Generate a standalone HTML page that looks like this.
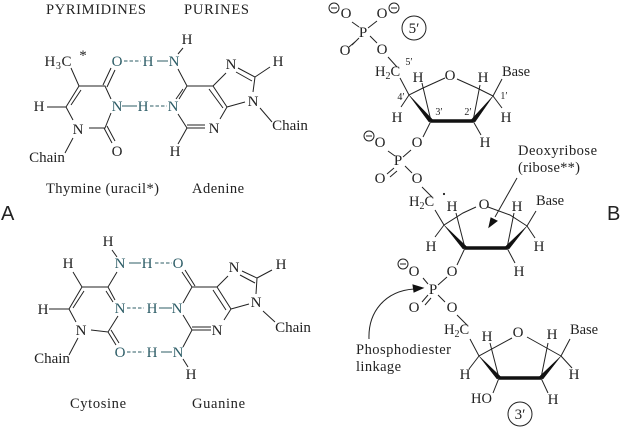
<!DOCTYPE html>
<html><head><meta charset="utf-8"><style>
html,body{margin:0;padding:0;background:#fff}
svg{display:block;filter:blur(.3px)}
text{font-family:"Liberation Serif",serif;font-size:14.5px;fill:#222}
.a text{text-anchor:middle;font-size:15px}
.t text{fill:#2c5c66}
.s{font-size:10px}
.a text.b{font-size:10px}
.l{font-family:"Liberation Sans",sans-serif;font-size:20px}
path,line,circle{fill:none;stroke:#222;stroke-width:1}
</style></head><body>
<svg width="622" height="429" viewBox="0 0 622 429" xmlns="http://www.w3.org/2000/svg">
<!-- Labels -->
<text x="46" y="14" textLength="100">PYRIMIDINES</text>
<text x="184" y="14" textLength="65">PURINES</text>
<text x="46" y="193" textLength="113">Thymine (uracil*)</text>
<text x="192" y="193" textLength="52">Adenine</text>
<text x="70" y="408" textLength="56">Cytosine</text>
<text x="192" y="408" textLength="53">Guanine</text>
<text class="l" x="1" y="220">A</text>
<text class="l" x="607" y="220">B</text>

<!-- Thymine-Adenine bonds -->
<path d="M71 68L79 86L105 86L111 99M111 113L105 128L89 128M73 138L65 153M73 120L66 107L79 86M47 107L66 107"/>
<path d="M71 105L81 90M103 85L111 68M107 87L115 70M104 128L112 143M107 126L115 141"/>
<path d="M178 69L187 86L213 86L227 107L220 119M187 86L179 99M183 89L176 99M178 114L187 128L178 144M187 128L205 128M187 125L205 125M183 48L178 54M213 86L226 73M209 89L223 108M238 68L255 77L253 92M236 72L252 81M255 77L270 67M227 107L245 102M260 108L272 122"/>
<path d="M122 106H137M157 61H168" style="stroke:#2c5c66"/>
<path d="M124 61H141M150 106H167" style="stroke:#2c5c66;stroke-dasharray:3.5 2"/>

<!-- Cytosine-Guanine bonds -->
<path d="M73 272L82 287L108 287L115 300M106 291L113 302M82 287L69 309L76 322M84 291L73 308M49 309L69 309M112 250L117 257M117 272L108 287M118 316L108 332L91 330M78 338L69 355M108 332L116 345M111 330L119 343"/>
<path d="M192 287L217 287L231 309L224 320M192 287L182 272M195 286L185 270M183 303L192 287M183 315L192 330L183 347M192 330H211M192 327H211M183 359L188 367M217 287L228 276M213 290L226 310M242 271L257 278L256 294M240 275L255 283M257 278L272 270M231 309L249 304M263 311L275 322"/>
<path d="M129 263H141M159 308H172M161 352H172" style="stroke:#2c5c66"/>
<path d="M155 263H172M127 308H144M127 352H144" style="stroke:#2c5c66;stroke-dasharray:3.5 2"/>

<g class="a">
<text x="58" y="66" textLength="27">H<tspan class="s" dy="3">3</tspan><tspan dy="-3">C</tspan></text>
<text x="83" y="60">*</text>
<text x="39" y="111">H</text><text x="47" y="162">Chain</text>
<text x="117" y="156">O</text><text x="78" y="134">N</text>
<text x="187" y="44">H</text><text x="278" y="66">H</text><text x="231" y="69">N</text><text x="253" y="106">N</text>
<text x="290" y="130">Chain</text><text x="214" y="133">N</text><text x="175" y="156">H</text>
<text x="108" y="246">H</text><text x="68" y="268">H</text><text x="43" y="314">H</text>
<text x="81" y="335">N</text><text x="52" y="363">Chain</text>
<text x="234" y="272">N</text><text x="281" y="269">H</text><text x="256" y="307">N</text>
<text x="293" y="332">Chain</text><text x="217" y="335">N</text><text x="191" y="379">H</text>
</g>
<g class="a t">
<text x="117" y="66">O</text><text x="148" y="66">H</text><text x="174" y="66">N</text>
<text x="117" y="111">N</text><text x="143" y="111">H</text><text x="173" y="111">N</text>
<text x="120" y="268">N</text><text x="147" y="268">H</text><text x="178" y="268">O</text>
<text x="120" y="313">N</text><text x="152" y="313">H</text><text x="177" y="313">N</text>
<text x="120" y="357">O</text><text x="152" y="357">H</text><text x="178" y="357">N</text>
</g>

<!-- Phosphate 1 and ring 1 -->
<path d="M352 22L359 27M377 21L368 28M370 36L377 43M359 38L352 45M356 41L349 47M388 57L397 67M400 78L409 95L423 88M445 78L423 88M457 79L477 88L493 96M422 83L431 121M480 85L473 121M493 96L502 79M493 96L502 108M409 95L401 107M431 121L423 137M473 121L481 135"/>
<path d="M409 95L429 122L433 120Z" style="fill:#111;stroke:#111;stroke-width:.5"/>
<path d="M493 96L471 120L475 122Z" style="fill:#111;stroke:#111;stroke-width:.5"/>
<path d="M431 121H473" style="stroke:#111;stroke-width:3.5"/>
<circle cx="334" cy="8" r="5"/><path d="M331 8H337"/>
<circle cx="394" cy="8" r="5"/><path d="M391 8H397"/>
<circle cx="414" cy="28" r="12"/>
<circle cx="369" cy="136" r="5"/><path d="M366 136H372"/>

<!-- Phosphate 2 and ring 2 -->
<path d="M388 151L395 156M411 150L403 157M405 166L412 173M394 168L387 174M397 171L390 177M422 187L432 197M435 210L444 225L463 213L476 207M488 207L510 215L527 226M456 213L465 248M514 213L507 248M527 226L536 211M444 225L435 237M527 226L535 238M507 248L515 263M465 248L457 265"/>
<path d="M444 225L463 249L467 247Z" style="fill:#111;stroke:#111;stroke-width:.5"/>
<path d="M527 226L505 247L509 249Z" style="fill:#111;stroke:#111;stroke-width:.5"/>
<path d="M465 248H507" style="stroke:#111;stroke-width:3.5"/>
<path d="M517 178L495 217"/>
<path d="M489 227L491 218L497 221Z" style="fill:#111;stroke:#111"/>
<circle cx="403" cy="264" r="5"/><path d="M400 264H406"/>

<!-- Phosphate 3 and ring 3 -->
<path d="M423 278L428 284M447 277L438 285M438 295L445 302M428 295L422 302M431 298L425 305M457 315L467 325M470 339L479 356L512 338M527 337L561 356M490 343L499 378M548 343L541 378M561 356L570 339M561 356L572 368M479 356L469 369M499 378L493 393M541 378L548 393"/>
<path d="M479 356L497 379L501 377Z" style="fill:#111;stroke:#111;stroke-width:.5"/>
<path d="M561 356L539 377L543 379Z" style="fill:#111;stroke:#111;stroke-width:.5"/>
<path d="M499 378H541" style="stroke:#111;stroke-width:3.5"/>
<path d="M369 339C368 312 385 291 414 289"/>
<path d="M423 288L413 285L414 292Z" style="fill:#111;stroke:#111"/>
<circle cx="520" cy="414" r="12"/>
<circle cx="444" cy="194" r=".6" style="fill:#222"/>

<g class="a">
<text x="346" y="18">O</text><text x="382" y="18">O</text><text x="363" y="37">P</text><text x="345" y="55">O</text><text x="382" y="54">O</text>
<text x="414" y="33">5′</text>
<text x="418" y="82">H</text><text x="450" y="80">O</text><text x="483" y="82">H</text>
<text x="397" y="122">H</text><text x="506" y="122">H</text><text x="485" y="147">H</text>
<text x="417" y="147">O</text><text x="380" y="147">O</text><text x="398" y="165">P</text><text x="380" y="183">O</text><text x="417" y="183">O</text>
<text x="452" y="211">H</text><text x="484" y="209">O</text><text x="517" y="211">H</text>
<text x="431" y="251">H</text><text x="539" y="251">H</text><text x="519" y="276">H</text>
<text x="452" y="276">O</text><text x="414" y="276">O</text><text x="433" y="294">P</text><text x="414" y="312">O</text><text x="452" y="312">O</text>
<text x="487" y="341">H</text><text x="518" y="337">O</text><text x="552" y="339">H</text>
<text x="465" y="379">H</text><text x="574" y="379">H</text><text x="553" y="404">H</text>
<text x="520" y="419">3′</text>
<text class="b" x="409" y="65">5′</text><text class="b" x="401" y="100">4′</text><text class="b" x="439" y="115">3′</text><text class="b" x="468" y="115">2′</text><text class="b" x="504" y="99">1′</text>
</g>
<text x="375" y="76">H<tspan class="s" dy="3">2</tspan><tspan dy="-3">C</tspan></text>
<text x="409" y="206">H<tspan class="s" dy="3">2</tspan><tspan dy="-3">C</tspan></text>
<text x="444" y="334">H<tspan class="s" dy="3">2</tspan><tspan dy="-3">C</tspan></text>
<text x="502" y="76" textLength="28">Base</text>
<text x="536" y="205" textLength="28">Base</text>
<text x="570" y="334" textLength="28">Base</text>
<text x="518" y="155" textLength="79">Deoxyribose</text>
<text x="518" y="172" textLength="62">(ribose**)</text>
<text x="356" y="354" textLength="95">Phosphodiester</text>
<text x="356" y="371" textLength="45">linkage</text>
<text x="471" y="403" textLength="21">HO</text>
</svg>
</body></html>
